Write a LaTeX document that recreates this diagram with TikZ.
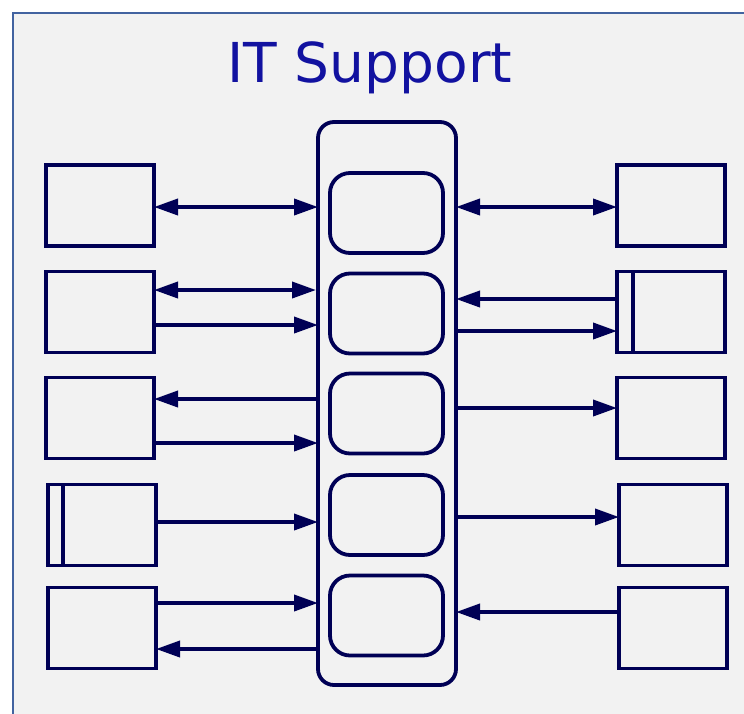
\documentclass[tikz,border=0pt]{standalone}
\usepackage{fontspec}
\newfontfamily\titlefont{DejaVu Sans}
\usetikzlibrary{arrows.meta,calc}
\definecolor{navy}{HTML}{000055}
\definecolor{titleblue}{HTML}{1212A0}
\definecolor{framecol}{HTML}{4263A0}
\definecolor{bg}{HTML}{F2F2F2}
\begin{document}
\begin{tikzpicture}[x=1pt,y=-1pt,
  ext/.style={draw=navy,line width=3.8pt,fill=bg,minimum width=108pt,minimum height=81pt,inner sep=0pt,outer sep=0pt},
  proc/.style={draw=navy,line width=3.8pt,fill=bg,rounded corners=20pt,minimum width=113pt,minimum height=80pt,inner sep=0pt,outer sep=0pt},
  container/.style={draw=navy,line width=3.8pt,fill=bg,rounded corners=16pt,minimum width=138pt,minimum height=563pt,inner sep=0pt,outer sep=0pt},
  flow/.style={draw=navy,line width=3.8pt,-{Triangle[length=24pt,width=16pt]}},
  bflow/.style={draw=navy,line width=3.8pt,{Triangle[length=24pt,width=16pt]}-{Triangle[length=24pt,width=16pt]}},
  bar/.style={draw=navy,line width=3.8pt}]
\useasboundingbox (0,0) rectangle (744,713);
\clip (0,0) rectangle (744,713);
\fill[white] (0,0) rectangle (744,713);
\draw[framecol,line width=2.2pt,fill=bg] (13,13) rectangle (770,740);
\node[anchor=base,text=titleblue,font=\titlefont\fontsize{55}{60}\selectfont] (title) at (370,82) {IT Support};
\node[container] (C) at (387,403.5) {};
\node[proc] (P1) at (386.5,213) {};
\node[proc] (P2) at (386.5,313.5) {};
\node[proc] (P3) at (386.5,413.5) {};
\node[proc] (P4) at (386.5,515) {};
\node[proc] (P5) at (386.5,615.5) {};
\node[ext] (L1) at (100,205.5) {};
\node[ext] (L2) at (100,312) {};
\node[ext] (L3) at (100,418) {};
\node[ext] (L4) at (102,525) {};
\node[ext] (L5) at (102,628) {};
\node[ext] (R1) at (671,205.5) {};
\node[ext] (R2) at (671,312) {};
\node[ext] (R3) at (671,418) {};
\node[ext] (R4) at (673,525) {};
\node[ext] (R5) at (673,628) {};
\draw[bar] ($(L4.north west)+(15,0)$) -- ($(L4.south west)+(15,0)$);
\draw[bar] ($(R2.north west)+(16,0)$) -- ($(R2.south west)+(16,0)$);
% left side
\draw[bflow] (L1.east |- 0,207) -- (C.west |- 0,207);
\draw[bflow] (L2.east |- 0,290) -- ([xshift=-2pt]C.west |- 0,290);
\draw[flow] (L2.east |- 0,325) -- (C.west |- 0,325);
\draw[flow] (C.west |- 0,399) -- (L3.east |- 0,399);
\draw[flow] (L3.east |- 0,443) -- (C.west |- 0,443);
\draw[flow] (L4.east |- 0,522) -- (C.west |- 0,522);
\draw[flow] (L5.east |- 0,603) -- (C.west |- 0,603);
\draw[flow] (C.west |- 0,649) -- (L5.east |- 0,649);
% right side
\draw[bflow] (C.east |- 0,207) -- (R1.west |- 0,207);
\draw[flow] (R2.west |- 0,299) -- (C.east |- 0,299);
\draw[flow] (C.east |- 0,331) -- (R2.west |- 0,331);
\draw[flow] (C.east |- 0,408) -- (R3.west |- 0,408);
\draw[flow] (C.east |- 0,517) -- (R4.west |- 0,517);
\draw[flow] (R5.west |- 0,612) -- (C.east |- 0,612);
\end{tikzpicture}
\end{document}
